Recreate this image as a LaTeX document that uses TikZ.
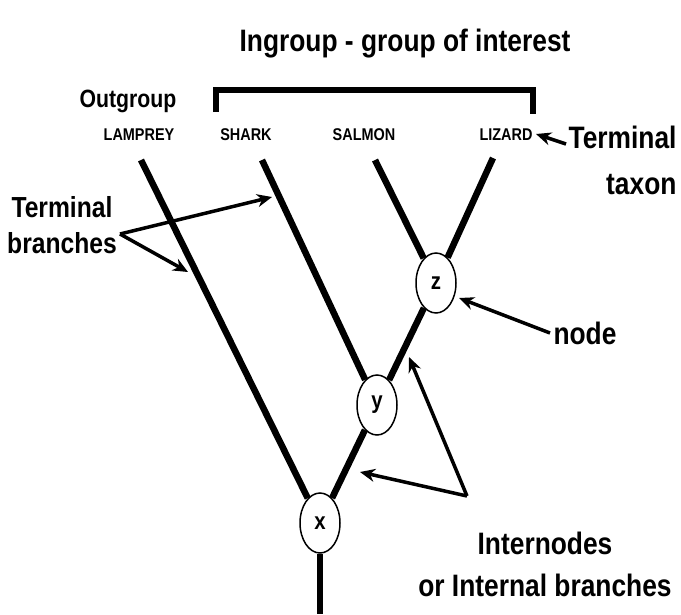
\documentclass[tikz,border=0pt]{standalone}
\usepackage{fontspec}
\setmainfont[FakeStretch=0.85]{Liberation Sans}
\usetikzlibrary{shapes.geometric,arrows.meta}
\tikzset{
  branch/.style={line width=6.5pt},
  hub/.style={ellipse,draw,line width=1.5pt,fill=white,minimum width=40pt,
    minimum height=60pt,inner sep=0pt,font=\bfseries\fontsize{24}{24}\selectfont},
  taxon/.style={font=\bfseries\fontsize{17}{17}\selectfont},
  callout/.style={font=\bfseries\fontsize{31}{36}\selectfont},
  pointer/.style={line width=3.5pt,-{Stealth[length=15pt,width=13pt]}}
}

\begin{document}
\begin{tikzpicture}[x=1pt,y=-1pt]
  \useasboundingbox (0,0) rectangle (681,614);
  % internal nodes
  \node[hub] (z) at (436,283) {z};
  \node[hub] (y) at (377,405) {y};
  \node[hub] (x) at (320,523) {x};
  % branch tips
  \coordinate (lamprey) at (141,160);
  \coordinate (shark) at (262,160);
  \coordinate (salmon) at (375,160);
  \coordinate (lizard) at (493,158);
  \coordinate (root) at (320,614);
  \draw[branch] (lamprey) -- (x);
  \draw[branch] (shark) -- (y);
  \draw[branch] (salmon) -- (z);
  \draw[branch] (lizard) -- (z);
  \draw[branch] (z) -- (y);
  \draw[branch] (y) -- (x);
  \draw[branch] (x) -- (root);
  % taxa
  \node[taxon] (lampreyname) at (139,135) {LAMPREY};
  \node[taxon] (sharkname) at (246,135) {SHARK};
  \node[taxon] (salmonname) at (364,135) {SALMON};
  \node[taxon] (lizardname) at (506,135) {LIZARD};
  % ingroup bracket
  \node[callout] (ingroup) at (405,44) {Ingroup - group of interest};
  \node[callout,font=\bfseries\fontsize{25}{30}\selectfont] (outgroup) at (128,101) {Outgroup};
  \coordinate (bl) at (216,112);
  \coordinate (br) at (533,114);
  \draw[line width=6pt] (bl) -- ++(0,-22) -| (br);
  % terminal taxon
  \node[callout,align=right,anchor=east,font=\bfseries\fontsize{31}{46}\selectfont]
    (termtaxon) at (680,160) {Terminal\\taxon};
  \coordinate (taxontail) at (566,144);
  \coordinate (lizardtip) at (536,134);
  \draw[pointer] (taxontail) -- (lizardtip);
  % terminal branches
  \node[callout,align=center,font=\bfseries\fontsize{29}{36}\selectfont]
    (termbranch) at (62,225) {Terminal\\branches};
  \coordinate (tb) at (120,234);
  \coordinate (sharkmark) at (272,197);
  \coordinate (lampreymark) at (188,272);
  \draw[pointer] (tb) -- (sharkmark);
  \draw[pointer] (tb) -- (lampreymark);
  % node
  \node[callout] (nodename) at (585,333) {node};
  \coordinate (zmark) at (459,298);
  \draw[pointer] (nodename.west) -- (zmark);
  % internodes
  \node[callout,align=center,font=\bfseries\fontsize{31}{42}\selectfont]
    (internodes) at (545,564) {Internodes\\or Internal branches};
  \coordinate (ib) at (467,496);
  \coordinate (zymark) at (409,357);
  \coordinate (yxmark) at (360,472);
  \draw[pointer] (ib) -- (zymark);
  \draw[pointer] (ib) -- (yxmark);
\end{tikzpicture}
\end{document}
